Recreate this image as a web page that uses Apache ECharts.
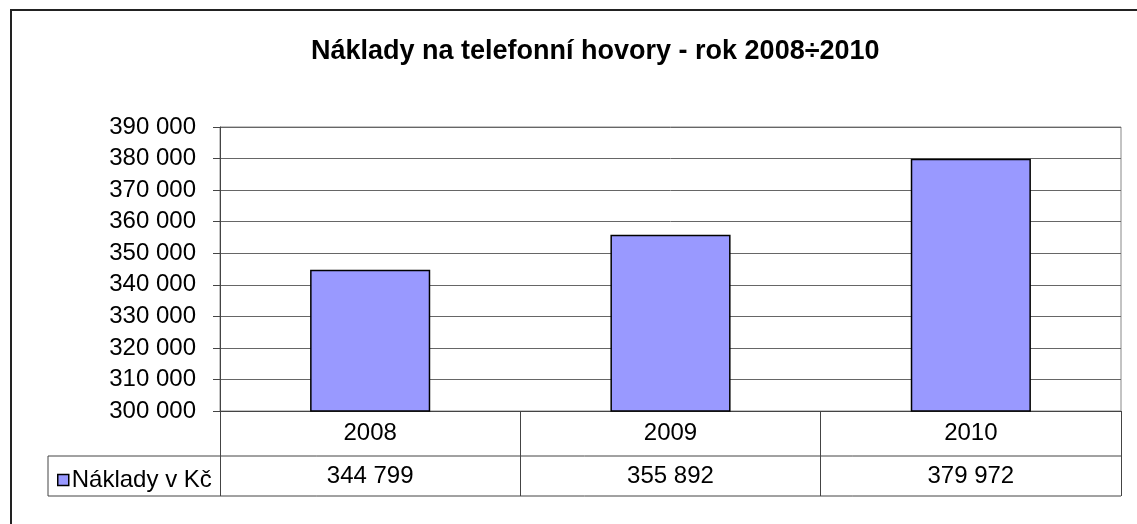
<!DOCTYPE html>
<html>
<head>
<meta charset="utf-8">
<script src="https://cdn.jsdelivr.net/npm/echarts@6/dist/echarts.min.js"></script>
<style>
html, body { margin: 0; padding: 0; background: #fff; }
#chart { width: 1137px; height: 524px; }
</style>
</head>
<body>
<div id="chart"></div>
<script>
// data
var years = ['2008', '2009', '2010'];
var naklady = [344799, 355892, 379972];
var seriesName = 'Náklady v Kč';

// cislo s mezerou po tisicich
function fmt(v) {
	return String(v).replace(/\B(?=(\d{3})+(?!\d))/g, ' ');
}

var FONT = 'Liberation Sans, Arial, sans-serif';
var myChart = echarts.init(document.getElementById('chart'));
var option = {
	backgroundColor: '#fff',
	animation: false,
	title: {
		text: 'Náklady na telefonní hovory - rok 2008÷2010',
		left: 306,
		top: 33,
		textStyle: { fontFamily: FONT, fontSize: 27, fontWeight: 'bold', color: '#000' }
	},
	legend: {
		data: [seriesName],
		left: 52,
		top: 463,
		icon: 'rect',
		itemWidth: 11,
		itemHeight: 11,
		itemGap: 4,
		itemStyle: { color: '#9999FF', borderColor: '#000', borderWidth: 1.5 },
		textStyle: { fontFamily: FONT, fontSize: 24, color: '#000', padding: [0, 0, 0, -2] }
	},
	grid: {
		left: 220,
		top: 127,
		right: 16,
		bottom: 113,
		show: true,
		borderColor: '#888',
		borderWidth: 1
	},
	xAxis: {
		type: 'category',
		data: years,
		axisLine: { lineStyle: { color: '#444', width: 1 } },
		axisTick: { show: true, interval: 0, length: 85, lineStyle: { color: '#444', width: 1 } },
		axisLabel: {
			interval: 0,
			margin: 1,
			formatter: function (v, i) {
				return '{a|' + v + '}\n{a|' + fmt(naklady[i]) + '}';
			},
			rich: {
				a: { fontFamily: FONT, fontSize: 24, color: '#000', lineHeight: 43 }
			}
		}
	},
	yAxis: {
		type: 'value',
		min: 300000,
		max: 390000,
		interval: 10000,
		axisLine: { show: true, lineStyle: { color: '#444', width: 1 } },
		axisTick: { show: true, length: 7, lineStyle: { color: '#444' } },
		splitLine: { lineStyle: { color: '#666', width: 1 } },
		axisLabel: {
			margin: 24,
			fontFamily: FONT,
			fontSize: 24,
			color: '#000',
			formatter: function (v) { return fmt(v); }
		}
	},
	series: [{
		name: seriesName,
		type: 'bar',
		barWidth: '40%',
		data: naklady,
		itemStyle: { color: '#9999FF', borderColor: '#000', borderWidth: 1.5 }
	}],
	graphic: [
		// ramecek grafu
		{ type: 'rect', shape: { x: 11, y: 10, width: 1300, height: 700 }, style: { fill: null, stroke: '#222', lineWidth: 2 }, silent: true },
		// tabulka dat
		{ type: 'polyline', shape: { points: [[1121, 456], [48, 456], [48, 496], [1121, 496]] }, style: { fill: null, stroke: '#444', lineWidth: 1 }, silent: true }
	]
};
myChart.setOption(option, true);
</script>
</body>
</html>
